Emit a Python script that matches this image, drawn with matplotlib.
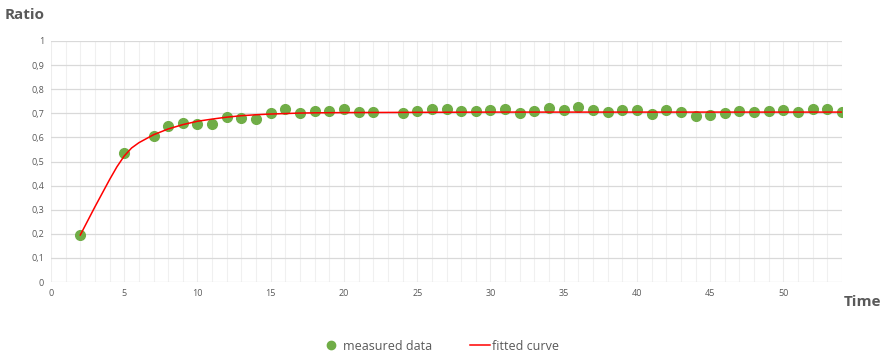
import matplotlib
matplotlib.use("Agg")
import matplotlib.pyplot as plt
from matplotlib.lines import Line2D
from matplotlib.ticker import MultipleLocator, FuncFormatter

plt.rcParams['font.family'] = ['Open Sans', 'DejaVu Sans']

# measured data
time_measured = [2, 5, 7, 8, 9, 10, 11, 12, 13, 14, 15, 16, 17, 18, 19, 20, 21, 22,
                 24, 25, 26, 27, 28, 29, 30, 31, 32, 33, 34, 35, 36, 37, 38, 39, 40,
                 41, 42, 43, 44, 45, 46, 47, 48, 49, 50, 51, 52, 53, 54]
ratio_measured = [0.195, 0.534, 0.606, 0.647, 0.658, 0.656, 0.656, 0.686, 0.680, 0.676,
                  0.700, 0.716, 0.701, 0.709, 0.709, 0.716, 0.704, 0.704,
                  0.701, 0.709, 0.716, 0.716, 0.708, 0.708, 0.715, 0.716, 0.701, 0.708,
                  0.722, 0.712, 0.725, 0.715, 0.704, 0.715, 0.715,
                  0.697, 0.715, 0.705, 0.688, 0.692, 0.700, 0.709, 0.705, 0.709, 0.715,
                  0.705, 0.716, 0.716, 0.704]

# fitted curve
time_fit = [2, 3, 4, 4.5, 5, 5.5, 6, 7, 8, 9, 10, 11, 12, 13, 14, 15, 16, 17, 18, 20, 25, 30,
            35, 40, 45, 50, 54]
ratio_fit = [0.195, 0.312, 0.425, 0.478, 0.523, 0.556, 0.578, 0.611, 0.635, 0.653, 0.667, 0.676,
             0.684, 0.690, 0.694, 0.697, 0.699, 0.701, 0.702, 0.703, 0.704, 0.705,
             0.705, 0.705, 0.705, 0.705, 0.705]

x_ticks = [0, 5, 10, 15, 20, 25, 30, 35, 40, 45, 50]
y_ticks = [0, 0.1, 0.2, 0.3, 0.4, 0.5, 0.6, 0.7, 0.8, 0.9, 1]

GREEN = '#70AD47'
RED = '#FF0000'
TXT = '#595959'

fig = plt.figure(figsize=(8.86, 3.6), dpi=100)
ax = fig.add_axes([51/886, 1 - 282/360, (842 - 51)/886, (282 - 41)/360])

ax.set_xlim(0, 54)
ax.set_ylim(0, 1)
ax.set_xticks(x_ticks)
ax.set_yticks(y_ticks)
ax.xaxis.set_minor_locator(MultipleLocator(1))
ax.yaxis.set_major_formatter(FuncFormatter(lambda v, p: ('%g' % round(v, 1)).replace('.', ',')))

ax.grid(which='major', axis='y', color='#D9D9D9', linewidth=0.9)
ax.grid(which='major', axis='x', color='#EDEDED', linewidth=0.8)
ax.grid(which='minor', axis='x', color='#F0F0F0', linewidth=0.8)
ax.set_axisbelow(True)
for s in ax.spines.values():
    s.set_visible(False)
ax.tick_params(which='both', length=0, labelsize=6.5, labelcolor=TXT, pad=5)

ax.plot(time_measured, ratio_measured, 'o', color=GREEN, markersize=7, zorder=2)
ax.plot(time_fit, ratio_fit, '-', color=RED, linewidth=1.1, zorder=3)

fig.text(5/886, 1 - 15/360, 'Ratio', fontsize=11, fontweight='bold', color=TXT,
         ha='left', va='center')
fig.text(881/886, 1 - 302/360, 'Time', fontsize=11, fontweight='bold', color=TXT,
         ha='right', va='center')

handles = [Line2D([], [], marker='o', color=GREEN, linestyle='None', markersize=6),
           Line2D([], [], color=RED, linewidth=1.1)]
fig.legend(handles, ['measured data', 'fitted curve'], loc='center',
           bbox_to_anchor=(440/886, 1 - 346/360), ncol=2, frameon=False,
           fontsize=9, labelcolor=TXT, handlelength=1.6, handletextpad=0.2,
           columnspacing=3.0)

fig.savefig('out.png', dpi=100)
